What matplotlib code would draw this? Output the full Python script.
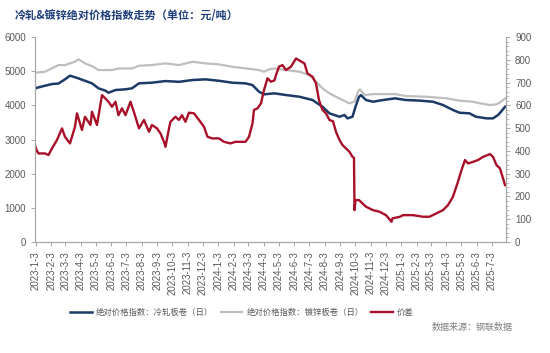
"""Cold-rolled vs galvanized absolute price index, with spread on the right axis."""

import matplotlib
matplotlib.use("Agg")
import matplotlib.pyplot as plt  # noqa: E402
from matplotlib.ticker import MultipleLocator  # noqa: E402
import pandas as pd  # noqa: E402

plt.rcParams["font.family"] = ["Noto Sans CJK SC", "DejaVu Sans"]

# 绝对价格指数：冷轧板卷（日）
cold_dates = [
    "2023-01-01", "2023-01-21", "2023-02-04", "2023-02-17", "2023-03-02", "2023-03-12",
    "2023-03-29", "2023-04-11", "2023-04-25", "2023-05-08", "2023-05-22", "2023-05-28",
    "2023-06-11", "2023-07-01", "2023-07-14", "2023-07-28", "2023-08-23", "2023-09-19",
    "2023-10-16", "2023-11-12", "2023-12-08", "2024-01-04", "2024-01-31", "2024-02-26",
    "2024-03-11", "2024-03-24", "2024-04-03", "2024-04-24", "2024-05-17", "2024-06-13",
    "2024-07-09", "2024-07-29", "2024-08-12", "2024-08-22", "2024-09-01", "2024-09-11",
    "2024-09-17", "2024-09-27", "2024-10-03", "2024-10-10", "2024-10-14", "2024-10-24",
    "2024-11-07", "2024-11-27", "2024-12-21", "2025-01-12", "2025-02-08", "2025-03-07",
    "2025-03-27", "2025-04-16", "2025-04-29", "2025-05-19", "2025-06-01", "2025-06-22",
    "2025-07-05", "2025-07-15", "2025-07-21", "2025-07-29",
]
cold_vals = [
    4500, 4575, 4625, 4640, 4762, 4870, 4790, 4720, 4645, 4500, 4430, 4370,
    4450, 4470, 4500, 4645, 4665, 4712, 4690, 4742, 4762, 4720, 4663, 4645,
    4595, 4400, 4323, 4352, 4303, 4253, 4157, 3960, 3767, 3717, 3668, 3717,
    3620, 3668, 3960, 4253, 4300, 4157, 4107, 4157, 4206, 4157, 4140, 4107,
    4010, 3864, 3785, 3767, 3668, 3620, 3620, 3717, 3814, 3960,
]

# 绝对价格指数：镀锌板卷（日）
galv_dates = [
    "2023-01-01", "2023-01-21", "2023-02-17", "2023-03-02", "2023-03-22", "2023-03-29",
    "2023-04-11", "2023-04-25", "2023-05-08", "2023-06-04", "2023-06-17", "2023-07-14",
    "2023-07-28", "2023-08-23", "2023-09-19", "2023-10-16", "2023-11-12", "2023-12-08",
    "2024-01-04", "2024-01-31", "2024-02-26", "2024-03-24", "2024-04-03", "2024-04-14",
    "2024-04-24", "2024-05-17", "2024-06-13", "2024-07-03", "2024-07-16", "2024-07-29",
    "2024-08-12", "2024-08-25", "2024-09-07", "2024-09-21", "2024-10-01", "2024-10-08",
    "2024-10-12", "2024-10-21", "2024-11-07", "2024-11-27", "2024-12-21", "2025-01-12",
    "2025-02-22", "2025-04-03", "2025-04-29", "2025-05-26", "2025-06-09", "2025-06-29",
    "2025-07-12", "2025-07-21", "2025-07-29",
]
galv_vals = [
    4955, 4985, 5180, 5180, 5277, 5350, 5230, 5150, 5035, 5035, 5080, 5080,
    5160, 5180, 5230, 5180, 5277, 5230, 5200, 5130, 5083, 5035, 4985, 5060,
    5080, 5035, 4985, 4888, 4692, 4498, 4352, 4253, 4157, 4060, 4110, 4400,
    4470, 4303, 4330, 4330, 4330, 4273, 4253, 4206, 4137, 4107, 4060, 4010,
    4030, 4107, 4206,
]

# 价差 (right axis)
spread_dates = [
    "2023-01-01", "2023-01-04", "2023-01-08", "2023-01-21", "2023-01-28", "2023-02-04",
    "2023-02-14", "2023-02-24", "2023-03-02", "2023-03-12", "2023-03-22", "2023-03-26",
    "2023-04-05", "2023-04-11", "2023-04-22", "2023-04-25", "2023-05-05", "2023-05-15",
    "2023-05-22", "2023-05-28", "2023-06-04", "2023-06-11", "2023-06-17", "2023-06-24",
    "2023-07-01", "2023-07-11", "2023-07-18", "2023-07-28", "2023-08-07", "2023-08-17",
    "2023-08-23", "2023-09-02", "2023-09-09", "2023-09-16", "2023-09-19", "2023-09-26",
    "2023-09-29", "2023-10-09", "2023-10-16", "2023-10-22", "2023-10-29", "2023-11-05",
    "2023-11-15", "2023-11-25", "2023-12-05", "2023-12-12", "2023-12-22", "2024-01-04",
    "2024-01-14", "2024-01-27", "2024-02-06", "2024-02-26", "2024-03-04", "2024-03-11",
    "2024-03-14", "2024-03-21", "2024-03-28", "2024-04-03", "2024-04-10", "2024-04-17",
    "2024-04-24", "2024-04-27", "2024-05-03", "2024-05-10", "2024-05-17", "2024-05-27",
    "2024-06-06", "2024-06-13", "2024-06-23", "2024-06-29", "2024-07-09", "2024-07-16",
    "2024-07-22", "2024-07-29", "2024-08-05", "2024-08-12", "2024-08-19", "2024-08-25",
    "2024-09-01", "2024-09-07", "2024-09-14", "2024-09-21", "2024-09-27", "2024-09-30",
    "2024-10-01", "2024-10-03", "2024-10-10", "2024-10-24", "2024-11-07", "2024-11-20",
    "2024-12-03", "2024-12-14", "2024-12-16", "2024-12-31", "2025-01-06", "2025-01-26",
    "2025-02-15", "2025-02-28", "2025-03-14", "2025-03-27", "2025-04-06", "2025-04-16",
    "2025-04-26", "2025-05-03", "2025-05-10", "2025-05-16", "2025-05-26", "2025-06-05",
    "2025-06-15", "2025-06-29", "2025-07-05", "2025-07-12", "2025-07-19", "2025-07-25",
    "2025-07-29",
]
spread_vals = [
    426, 404, 389, 389, 382, 411, 448, 499, 462, 433, 506, 565,
    492, 550, 514, 572, 514, 645, 630, 616, 594, 616, 557, 587,
    557, 616, 570, 499, 536, 484, 514, 499, 477, 440, 418, 499,
    528, 550, 536, 557, 528, 568, 565, 536, 506, 462, 455, 455,
    440, 433, 440, 440, 462, 521, 580, 587, 609, 667, 719, 704,
    710, 733, 770, 777, 755, 770, 806, 797, 784, 740, 726, 697,
    623, 580, 565, 536, 530, 484, 448, 426, 411, 396, 374, 370,
    140, 184, 184, 155, 140, 133, 118, 89, 104, 111, 118, 118,
    111, 111, 126, 140, 162, 199, 265, 316, 360, 345, 352, 360,
    374, 386, 374, 338, 323, 280, 250,
]

TITLE = "冷轧&镀锌绝对价格指数走势（单位：元/吨）"
LABELS = ["绝对价格指数：冷轧板卷（日）", "绝对价格指数：镀锌板卷（日）", "价差"]
SOURCE = "数据来源：钢联数据"

BLUE, GRAY, RED = "#1B3A66", "#BEBEBE", "#A8102A"
AXIS = "#A6A6A6"
TEXT = "#595959"

fig = plt.figure(figsize=(5.5, 3.53), dpi=100)
ax = fig.add_axes([0.0636, 0.3144, 0.8564, 0.5806])
ax2 = ax.twinx()

l1, = ax.plot(pd.to_datetime(cold_dates), cold_vals, color=BLUE, lw=1.8)
l2, = ax.plot(pd.to_datetime(galv_dates), galv_vals, color=GRAY, lw=1.6)
l3, = ax2.plot(pd.to_datetime(spread_dates), spread_vals, color=RED, lw=1.7)

ax.set_xlim(pd.Timestamp("2023-01-01"), pd.Timestamp("2025-07-31"))
ax.set_ylim(0, 6000)
ax2.set_ylim(0, 900)
ax.yaxis.set_major_locator(MultipleLocator(1000))
ax2.yaxis.set_major_locator(MultipleLocator(100))
ax2.yaxis.set_minor_locator(MultipleLocator(20))

# month ticks on the 3rd, labelled like 2023-1-3
ticks = pd.date_range("2023-01-01", "2025-07-01", freq="MS") + pd.Timedelta(days=2)
ax.set_xticks(ticks)
ax.set_xticklabels([f"{d.year}-{d.month}-{d.day}" for d in ticks], rotation=90,
                   fontsize=6.5, color=TEXT, family="Liberation Sans")

for a in (ax, ax2):
    for s in a.spines.values():
        s.set_color(AXIS)
        s.set_linewidth(0.8)
    a.spines["top"].set_visible(False)
    a.tick_params(colors=AXIS, labelcolor=TEXT, labelsize=7, length=3, width=0.7)
    a.tick_params(which="minor", colors=AXIS, length=2, width=0.5)
for lab in ax.get_yticklabels() + ax2.get_yticklabels():
    lab.set_family("Liberation Sans")

fig.text(0.027, 0.955, TITLE, fontsize=8, color="#1F3F7A", fontweight="bold",
         ha="left", va="center")
fig.legend([l1, l2, l3], LABELS, loc="center", bbox_to_anchor=(0.44, 0.116), ncol=3,
           frameon=False, fontsize=6, handlelength=2.6, columnspacing=0.9,
           handletextpad=0.5, labelcolor=TEXT)
fig.text(0.933, 0.072, SOURCE, fontsize=6.5, color="#7F7F7F", ha="right", va="center")

fig.savefig("out.png", dpi=100)
